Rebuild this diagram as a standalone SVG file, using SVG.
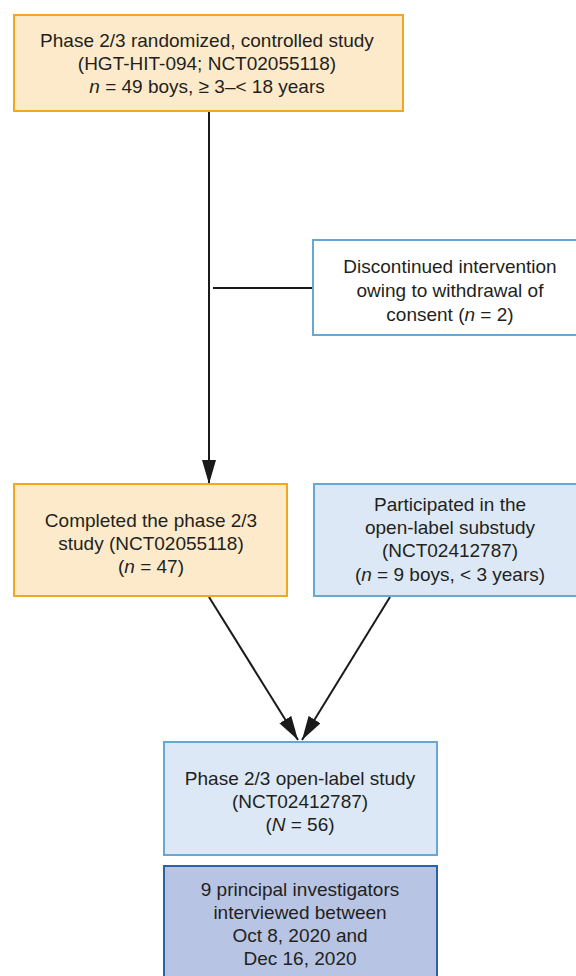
<svg xmlns="http://www.w3.org/2000/svg" width="576" height="976" viewBox="0 0 576 976">
<style>
text{font-family:"Liberation Sans",Arial,sans-serif;font-size:19px;fill:#231f20;text-anchor:middle}
.orange{fill:#fdeacb;stroke:#f0a81e;stroke-width:2}
.lblue{fill:#dce8f5;stroke:#67a7d4;stroke-width:2}
.white{fill:#ffffff;stroke:#67a7d4;stroke-width:2}
.dblue{fill:#b8c4e4;stroke:#2a63a5;stroke-width:2}
.ln{stroke:#1a1a1a;stroke-width:2;fill:none}
</style>
<defs>
<marker id="ah2" viewBox="0 0 24 14" refX="24" refY="7" markerWidth="24" markerHeight="14" markerUnits="userSpaceOnUse" orient="auto">
<path d="M0,0 L24,7 L0,14 Z" fill="#1a1a1a"/>
</marker>
</defs>
<g id="connectors">
<line class="ln" x1="209" y1="111" x2="209" y2="484" marker-end="url(#ah2)"/>
<line class="ln" x1="213" y1="288" x2="313" y2="288"/>
<line class="ln" x1="209" y1="597" x2="298" y2="740" marker-end="url(#ah2)"/>
<line class="ln" x1="390" y1="597" x2="302" y2="740" marker-end="url(#ah2)"/>
</g>
<g id="node-phase23">
<rect class="orange" x="14" y="15" width="389" height="96"/>
<text x="207" y="47">Phase 2/3 randomized, controlled study</text>
<text x="207" y="70">(HGT-HIT-094; NCT02055118)</text>
<text x="207" y="93"><tspan font-style="italic">n</tspan> = 49 boys, ≥ 3–&lt; 18 years</text>
</g>
<g id="node-discontinued">
<rect class="white" x="313" y="240" width="270" height="95"/>
<text x="450" y="273">Discontinued intervention</text>
<text x="450" y="297">owing to withdrawal of</text>
<text x="450" y="321">consent (<tspan font-style="italic">n</tspan> = 2)</text>
</g>
<g id="node-completed">
<rect class="orange" x="14" y="484" width="273" height="112"/>
<text x="151" y="527">Completed the phase 2/3</text>
<text x="151" y="550">study (NCT02055118)</text>
<text x="151" y="573">(<tspan font-style="italic">n</tspan> = 47)</text>
</g>
<g id="node-participated">
<rect class="lblue" x="314" y="484" width="269" height="112"/>
<text x="450" y="511">Participated in the</text>
<text x="450" y="534">open-label substudy</text>
<text x="450" y="557">(NCT02412787)</text>
<text x="450" y="581">(<tspan font-style="italic">n</tspan> = 9 boys, &lt; 3 years)</text>
</g>
<g id="node-openlabel">
<rect class="lblue" x="164" y="742" width="273" height="113"/>
<text x="300" y="785">Phase 2/3 open-label study</text>
<text x="300" y="808">(NCT02412787)</text>
<text x="300" y="831">(<tspan font-style="italic">N</tspan> = 56)</text>
</g>
<g id="node-investigators">
<rect class="dblue" x="164" y="866" width="273" height="120"/>
<text x="300" y="896">9 principal investigators</text>
<text x="300" y="919">interviewed between</text>
<text x="300" y="942">Oct 8, 2020 and</text>
<text x="300" y="965">Dec 16, 2020</text>
</g>
</svg>
